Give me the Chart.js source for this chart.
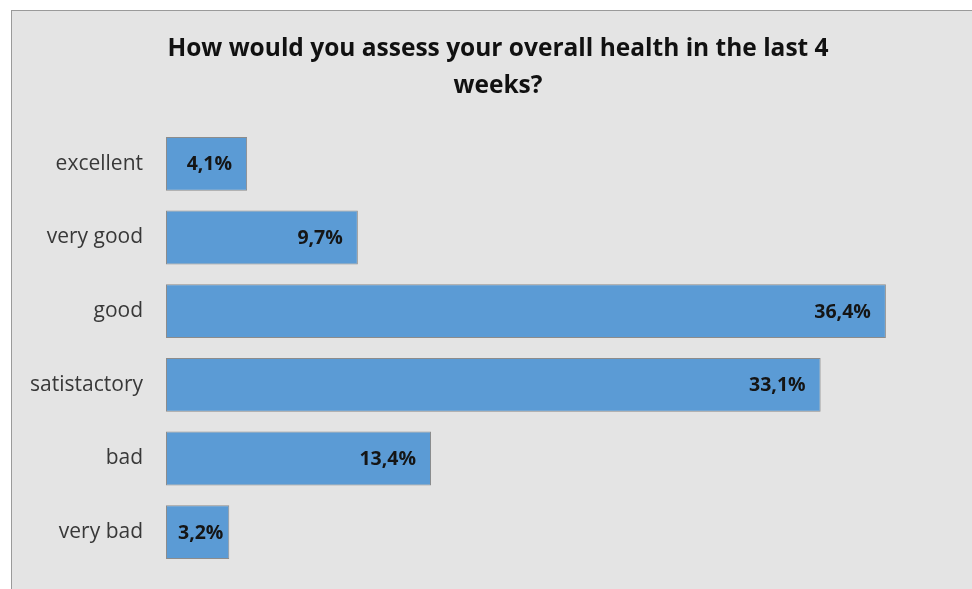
<!DOCTYPE html>
<html>
<head>
<meta charset="utf-8">
<script src="https://cdn.jsdelivr.net/npm/chart.js@4"></script>
<style>
  html,body{margin:0;padding:0;background:#fff;overflow:hidden;}
  #box{position:absolute;left:11px;top:10px;width:961px;height:579px;background:#e4e4e4;overflow:hidden;
       border-left:1px solid #9a9a9a;border-top:1px solid #9a9a9a;}
  canvas{display:block;}
</style>
</head>
<body>
<div id="box"><canvas id="chart" width="972" height="578"></canvas></div>
<script>
// ---------------- Dados ----------------
const titleLines = ["How would you assess your overall health in the last 4", "weeks?"];
const categories = ["excellent", "very good", "good", "satistactory", "bad", "very bad"];
const shares = [4.1, 9.7, 36.4, 33.1, 13.4, 3.2];
const axisMax = 40.45;

const barColor = "#5b9bd5";
const barBorder = "#8c8c8c";

// rótulos de valor no fim de cada barra
const valueLabels = {
  id: "valueLabels",
  afterDatasetsDraw(chart){
    const ctx = chart.ctx;
    const meta = chart.getDatasetMeta(0);
    ctx.save();
    ctx.font = "bold 19.5px 'Open Sans', sans-serif";
    ctx.fillStyle = "#151515";
    ctx.textAlign = "left";
    ctx.textBaseline = "middle";
    meta.data.forEach((bar, i) => {
      const txt = shares[i].toFixed(1).replace(".", ",") + "%";
      const w = ctx.measureText(txt).width;
      let x = bar.x - 15 - w;
      if (x < bar.base + 12) x = bar.base + 12;
      ctx.fillText(txt, x, bar.y + 1);
    });
    ctx.restore();
  }
};

new Chart(document.getElementById("chart"), {
  type: "bar",
  data: {
    labels: categories,
    datasets: [{
      data: shares,
      backgroundColor: barColor,
      borderColor: barBorder,
      borderWidth: 1,
      borderSkipped: false,
      categoryPercentage: 1,
      barPercentage: 0.73
    }]
  },
  options: {
    indexAxis: "y",
    responsive: false,
    animation: false,
    layout: { padding: { left: 18, right: 18, bottom: 20, top: 0 } },
    plugins: {
      legend: { display: false },
      tooltip: { enabled: false },
      title: {
        display: true,
        text: titleLines,
        color: "#111",
        font: { family: "'Open Sans', sans-serif", size: 24.5, weight: "bold", lineHeight: 1.51 },
        padding: { top: 20, bottom: 22 }
      }
    },
    scales: {
      x: { min: 0, max: axisMax, display: false },
      y: {
        grid: { display: false, drawTicks: false },
        border: { display: false },
        ticks: { color: "#383838", padding: 23, font: { family: "'Open Sans', sans-serif", size: 21 } },
        afterFit(scale){
          scale.width = 136;
          scale.paddingTop = 0;
          scale.paddingBottom = 0;
        }
      }
    }
  },
  plugins: [valueLabels]
});
</script>
</body>
</html>
